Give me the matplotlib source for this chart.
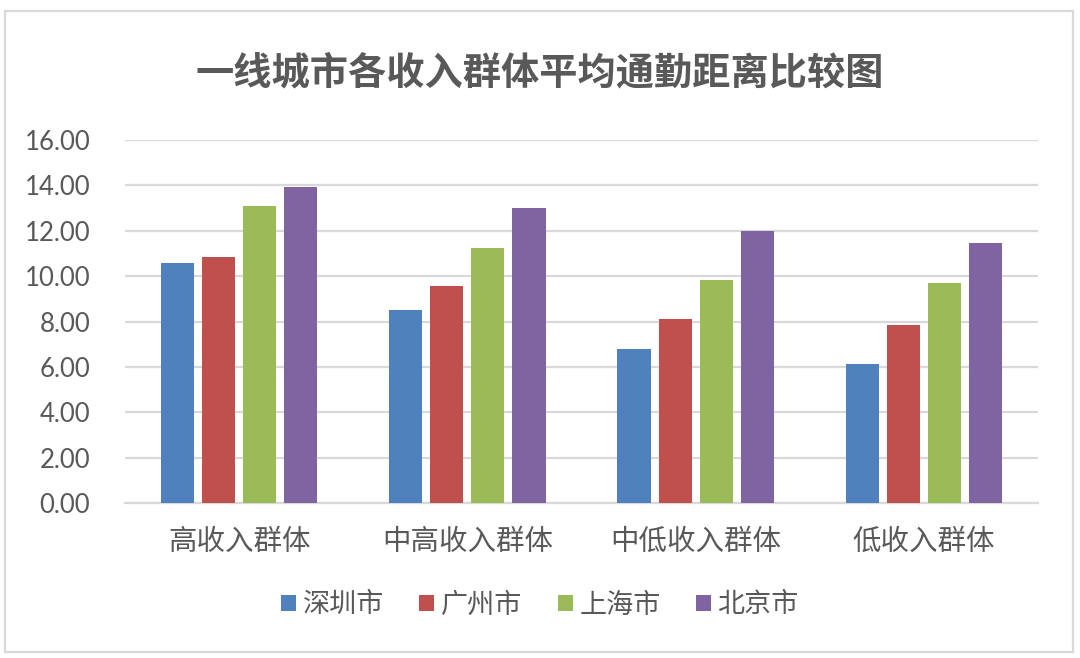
import numpy as np
import matplotlib
matplotlib.use("Agg")
import matplotlib.pyplot as plt
from matplotlib.patches import Rectangle, Patch

plt.rcParams['font.family'] = ['Noto Sans CJK SC', 'DejaVu Sans']

groups = ["高收入群体", "中高收入群体", "中低收入群体", "低收入群体"]
cities = ["深圳市", "广州市", "上海市", "北京市"]
shenzhen = [10.60, 8.51, 6.79, 6.11]
guangzhou = [10.84, 9.55, 8.11, 7.83]
shanghai = [13.10, 11.24, 9.81, 9.68]
beijing = [13.91, 12.99, 11.99, 11.44]
yticks = [0, 2, 4, 6, 8, 10, 12, 14, 16]

colors = ["#4F81BD", "#C0504D", "#9BBB59", "#8064A2"]
text_col = "#595959"
grid_col = "#D9D9D9"

W, H = 1080, 658
fig = plt.figure(figsize=(W / 100, H / 100), dpi=100)

# outer frame
fig.patches.append(Rectangle((5 / W, 1 - 652 / H), 1068 / W, 641 / H,
                             transform=fig.transFigure, fill=False,
                             edgecolor=grid_col, linewidth=1.6))

ax = fig.add_axes([125 / W, 1 - 503 / H, 913 / W, 363 / H])

x = np.arange(len(groups))
width = 0.145
step = 0.18
series = [shenzhen, guangzhou, shanghai, beijing]
for i, vals in enumerate(series):
    ax.bar(x + (i - 1.5) * step, vals, width, color=colors[i], zorder=3)

ax.set_xlim(-0.5, len(groups) - 0.5)
ax.set_ylim(0, 16)
ax.set_yticks(yticks)
ax.set_yticklabels([f"{v:.2f}" for v in yticks], fontfamily="Lato",
                   fontsize=18.5, color=text_col)
ax.set_xticks(x)
ax.set_xticklabels(groups, fontsize=20.5, color=text_col)
ax.tick_params(axis="both", length=0)
ax.tick_params(axis="y", pad=25)
ax.tick_params(axis="x", pad=17)

ax.grid(axis="y", color=grid_col, linewidth=1.6, zorder=0)
for s in ["top", "right", "left"]:
    ax.spines[s].set_visible(False)
ax.spines["bottom"].set_color(grid_col)
ax.spines["bottom"].set_linewidth(1.6)

fig.text(0.5, 1 - 73 / H, "一线城市各收入群体平均通勤距离比较图", ha="center",
         va="center", fontsize=27.5, fontweight="bold", color=text_col)

handles = [Patch(facecolor=c) for c in colors]
fig.legend(handles, cities, loc="center", bbox_to_anchor=(0.5, 1 - 605 / H),
           ncol=4, frameon=False, fontsize=19.5, labelcolor=text_col,
           handlelength=0.55, handleheight=0.55, handletextpad=0.25,
           columnspacing=1.3)

fig.savefig("out.png", dpi=100)
